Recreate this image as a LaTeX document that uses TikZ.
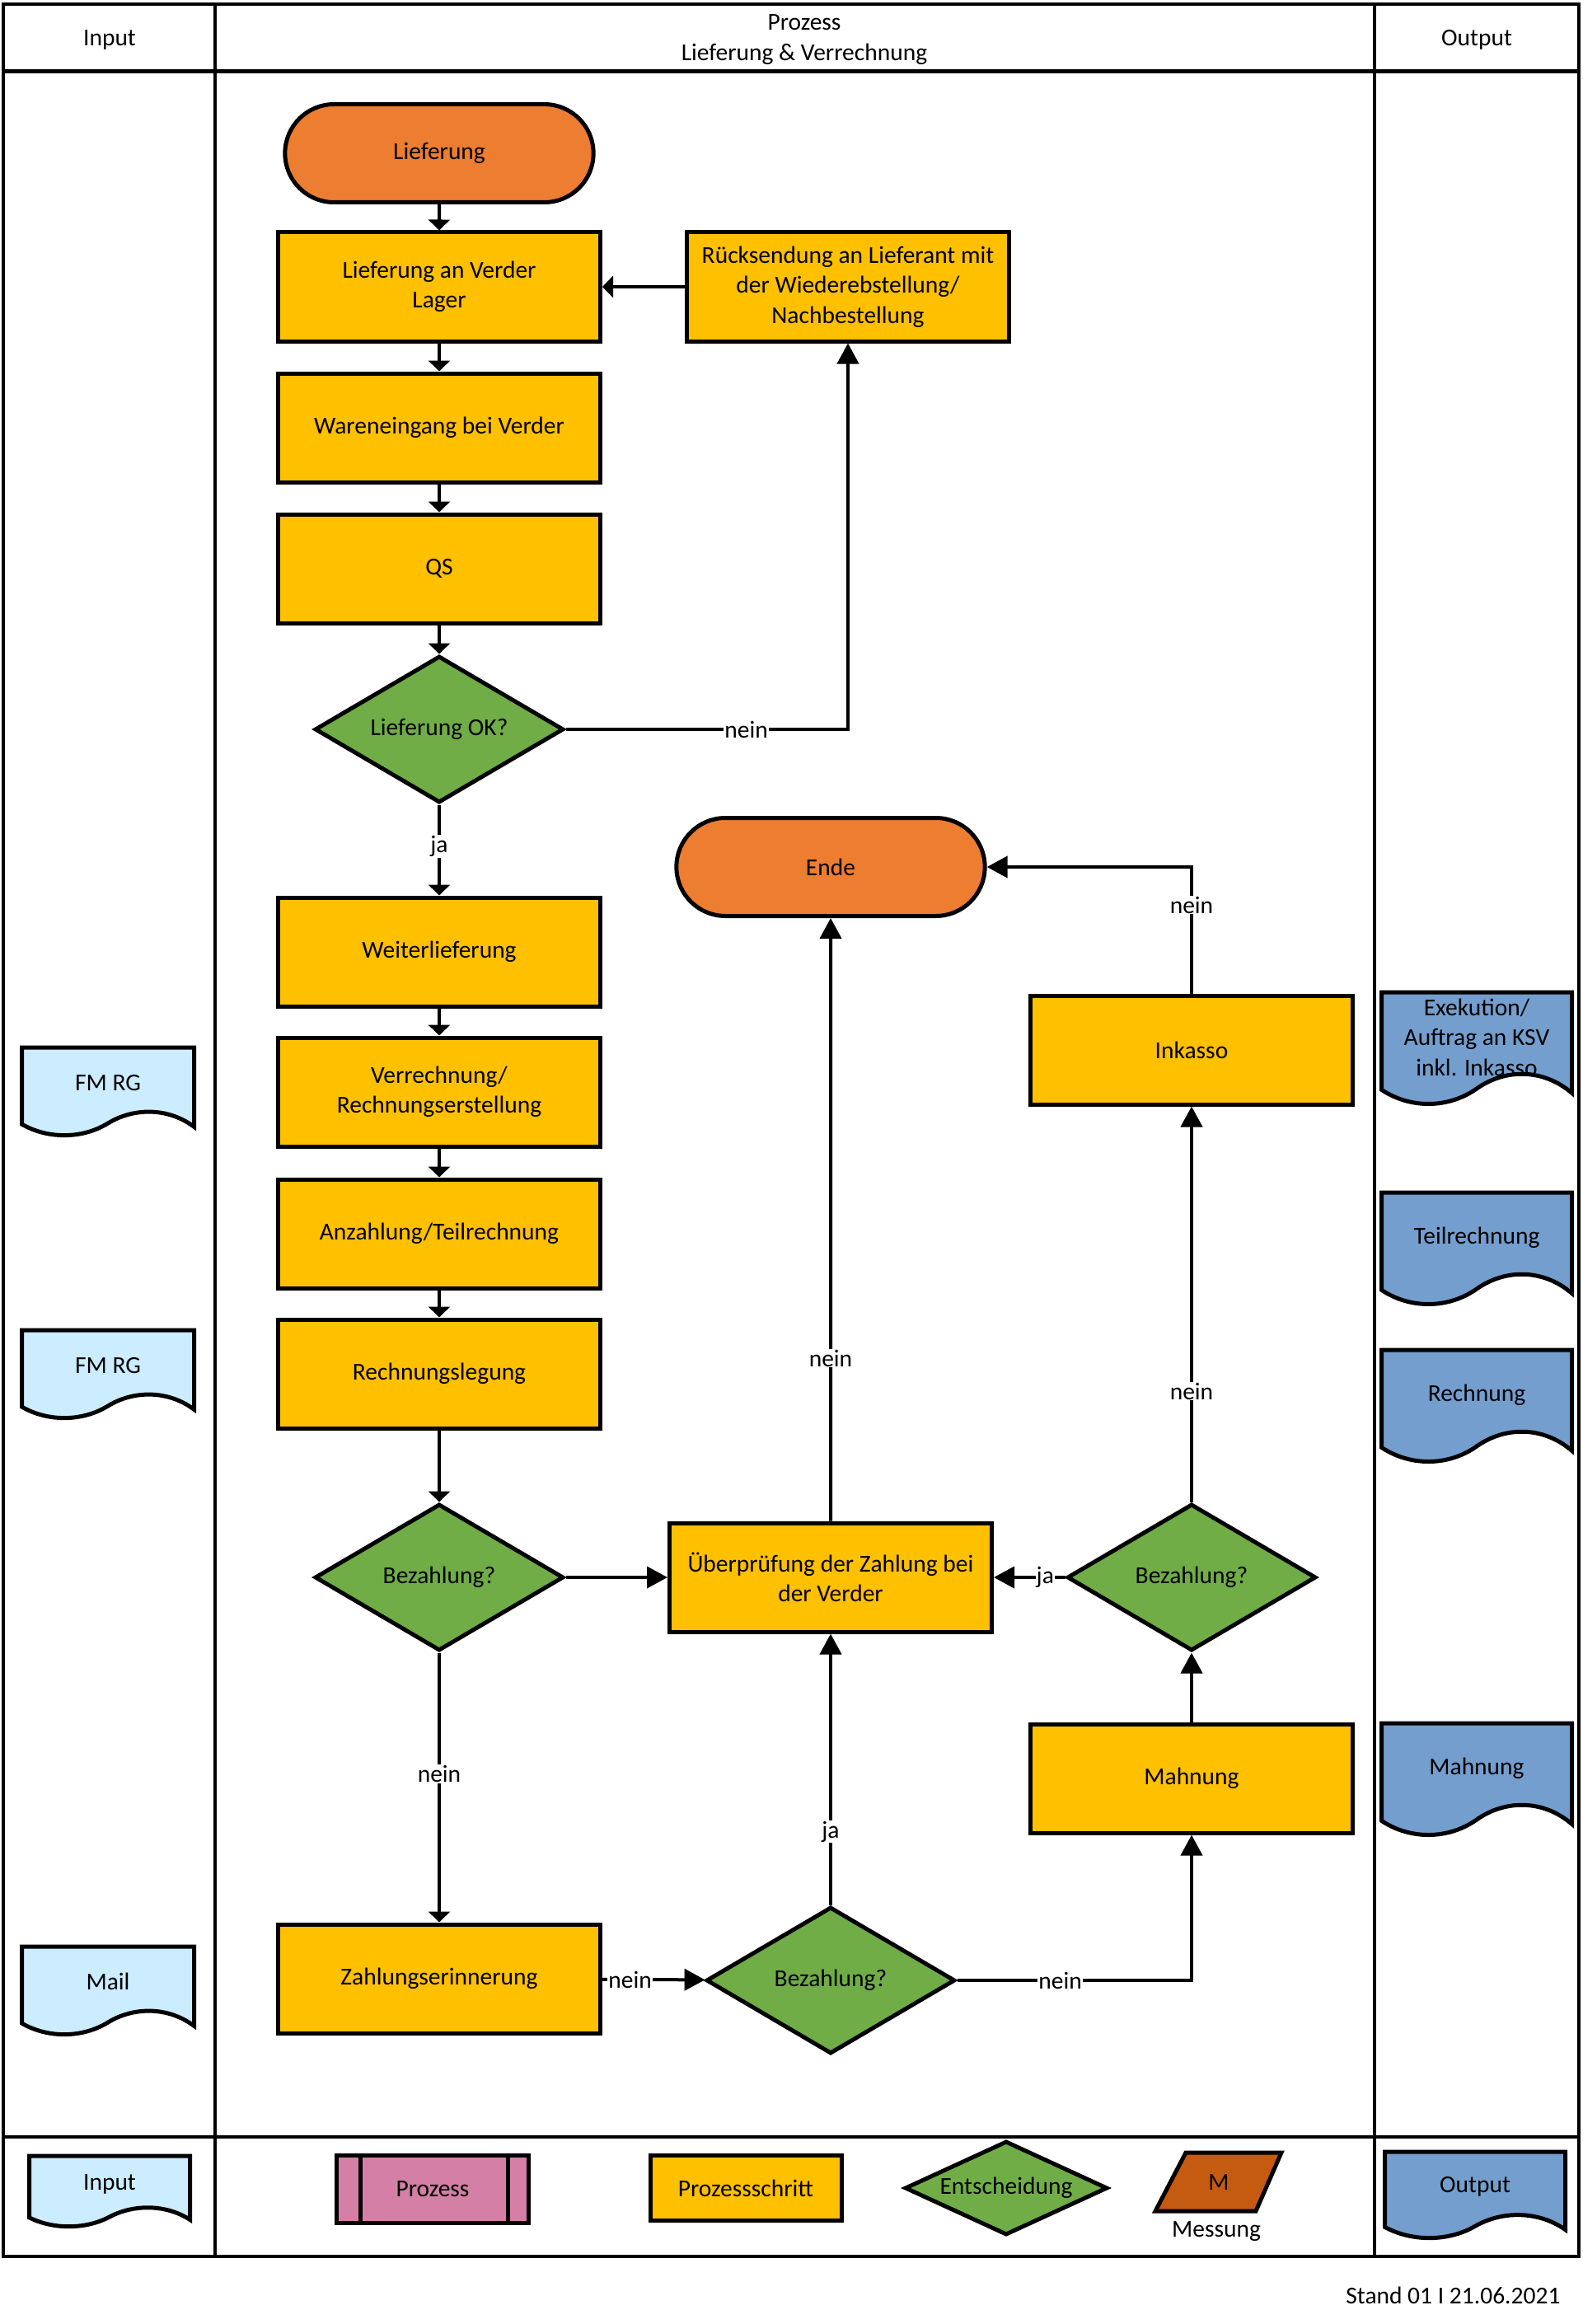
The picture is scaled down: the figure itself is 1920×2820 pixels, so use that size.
\documentclass[tikz,border=0pt]{standalone}
\usepackage{fontspec}
\setmainfont{Carlito}
\usetikzlibrary{arrows.meta,shapes.geometric,shapes.misc}
\definecolor{termorange}{HTML}{ED7D31}
\definecolor{stepyellow}{HTML}{FFC000}
\definecolor{decgreen}{HTML}{70AD47}
\definecolor{inblue}{HTML}{CCECFF}
\definecolor{outblue}{HTML}{739ECE}
\definecolor{prozpink}{HTML}{D47FA6}
\definecolor{messorange}{HTML}{C55A11}
\tikzset{
 txt/.style={font=\fontsize{29.5}{36.5}\selectfont, align=center},
 stepbox/.style={txt, rectangle, draw, line width=5pt, fill=stepyellow, minimum width=391pt, minimum height=132pt, inner sep=4pt},
 termnode/.style={txt, rounded rectangle, draw, line width=5pt, fill=termorange, minimum width=381pt, minimum height=119pt},
 decision/.style={txt, diamond, draw, line width=5pt, fill=decgreen, minimum width=302pt, minimum height=178pt, inner sep=0pt, shape aspect=1.68},
 conn/.style={line width=4pt, -{Triangle[length=25pt,width=26pt]}},
 sconn/.style={line width=4pt, -{Triangle[length=13pt,width=26pt]}},
 lbl/.style={txt, fill=white, inner sep=1pt},
 framel/.style={line width=4pt},
}
\newcommand{\mydoc}[7]{%
 \draw[line width=5pt, fill=#6]
   ({#2-#4/2},{#3}) -- ({#2+#4/2},{#3}) -- ({#2+#4/2},{#3+0.9*#5})
   .. controls ({#2+0.35*#4},{#3+0.68*#5}) and ({#2+0.15*#4},{#3+0.68*#5}) .. ({#2},{#3+0.86*#5})
   .. controls ({#2-0.15*#4},{#3+1.04*#5}) and ({#2-0.35*#4},{#3+1.04*#5}) .. ({#2-#4/2},{#3+0.87*#5}) -- cycle;
 \node[txt] (#1) at ({#2},{#3+0.4*#5}) {#7};
}
\begin{document}
\begin{tikzpicture}[x=1pt,y=-1pt]
\useasboundingbox (0,0) rectangle (1920,2820);
% frame
\draw[framel] (4,5) rectangle (1916,2738);
\draw[line width=5pt] (4,87) -- (1916,87);
\draw[framel] (4,2593) -- (1916,2593);
\draw[framel] (261,5) -- (261,2738);
\draw[framel] (1668,5) -- (1668,2738);
\node[txt] (hin) at (133,48) {Input};
\node[txt] (hproz) at (976,48) {Prozess\\Lieferung \& Verrechnung};
\node[txt] (hout) at (1792,48) {Output};

% process nodes
\node[termnode] (lief) at (533,186) {Lieferung};
\node[stepbox] (lav) at (533,348) {Lieferung an Verder\\Lager};
\node[stepbox] (rueck) at (1029,348) {Rücksendung an Lieferant mit\\der Wiederebstellung/\\Nachbestellung};
\node[stepbox] (wein) at (533,519) {Wareneingang bei Verder};
\node[stepbox] (qs) at (533,690) {QS};
\node[decision] (ok) at (533,885) {Lieferung OK?};
\node[stepbox] (weiter) at (533,1155) {Weiterlieferung};
\node[stepbox] (verr) at (533,1325) {Verrechnung/\\Rechnungserstellung};
\node[stepbox] (anz) at (533,1497) {Anzahlung/Teilrechnung};
\node[stepbox] (rl) at (533,1667) {Rechnungslegung};
\node[decision] (bez1) at (533,1914) {Bezahlung?};
\node[stepbox] (uep) at (1008,1914) {Überprüfung der Zahlung bei\\der Verder};
\node[decision] (bez2) at (1446,1914) {Bezahlung?};
\node[termnode] (ende) at (1008,1052) {Ende};
\node[stepbox] (ink) at (1446,1274) {Inkasso};
\node[stepbox] (mahn) at (1446,2158) {Mahnung};
\node[stepbox] (ze) at (533,2401) {Zahlungserinnerung};
\node[decision] (bez3) at (1008,2403) {Bezahlung?};

% connectors
\draw[sconn] (lief) -- (lav);
\draw[sconn] (rueck) -- (lav);
\draw[sconn] (lav) -- (wein);
\draw[sconn] (wein) -- (qs);
\draw[sconn] (qs) -- (ok);
\draw[conn] (ok.east) -- node[lbl,pos=0.64]{nein} (ok.east -| rueck.south) -- (rueck.south);
\draw[sconn] (ok) -- node[lbl,pos=0.46]{ja} (weiter);
\draw[sconn] (weiter) -- (verr);
\draw[sconn] (verr) -- (anz);
\draw[sconn] (anz) -- (rl);
\draw[sconn] (rl) -- (bez1);
\draw[conn] (bez1) -- (uep);
\draw[sconn] (bez1) -- node[lbl,pos=0.45]{nein} (ze);
\draw[conn] (ze) -- node[lbl,pos=0.27]{nein} (bez3);
\draw[conn] (bez3) -- node[lbl,pos=0.27]{ja} (uep);
\draw[conn] (bez3.east) -- node[lbl,pos=0.44]{nein} (bez3.east -| mahn.south) -- (mahn.south);
\draw[conn] (mahn) -- (bez2);
\draw[conn] (bez2) -- node[lbl,pos=0.28]{ja} (uep);
\draw[conn] (bez2) -- node[lbl,pos=0.28]{nein} (ink);
\draw[conn] (uep) -- node[lbl,pos=0.27]{nein} (ende);
\draw[conn] (ink.north) -- node[lbl,pos=0.7]{nein} (ink.north |- ende.east) -- (ende.east);

% input / output documents
\mydoc{fm1}{131}{1271}{209}{107}{inblue}{FM RG}
\mydoc{fm2}{131}{1614}{209}{107}{inblue}{FM RG}
\mydoc{mail}{131}{2362}{209}{107}{inblue}{Mail}
\mydoc{exek}{1792}{1204}{231}{136}{outblue}{Exekution/\\Auftrag an KSV\\inkl. Inkasso}
\mydoc{teil}{1792}{1447}{231}{136}{outblue}{Teilrechnung}
\mydoc{rech}{1792}{1638}{231}{136}{outblue}{Rechnung}
\mydoc{mahnout}{1792}{2091}{231}{136}{outblue}{Mahnung}

% legend
\mydoc{lin}{133}{2616}{195}{86}{inblue}{Input}
\node[txt, draw, line width=5pt, fill=prozpink, minimum width=233pt, minimum height=82pt] (lproz) at (525,2656) {Prozess};
\draw[line width=5pt] ([xshift=31pt]lproz.north west) -- ([xshift=31pt]lproz.south west);
\draw[line width=5pt] ([xshift=-28pt]lproz.north east) -- ([xshift=-28pt]lproz.south east);
\node[stepbox, minimum width=232pt, minimum height=79pt] (lstep) at (905,2655) {Prozessschritt};
\node[decision, minimum width=246pt, minimum height=114pt, shape aspect=2.1] (ldec) at (1221,2655) {Entscheidung};
\draw[line width=5pt, fill=messorange] (1439,2612) -- (1555,2612) -- (1524,2683) -- (1402,2683) -- cycle;
\node[txt] (lm) at (1479,2648) {M};
\node[txt] (lmess) at (1476,2708) {Messung};
\mydoc{lout}{1790}{2611}{219}{105}{outblue}{Output}
\node[txt, anchor=east] (stand) at (1897,2785) {Stand 01 I 21.06.2021};
\end{tikzpicture}
\end{document}
